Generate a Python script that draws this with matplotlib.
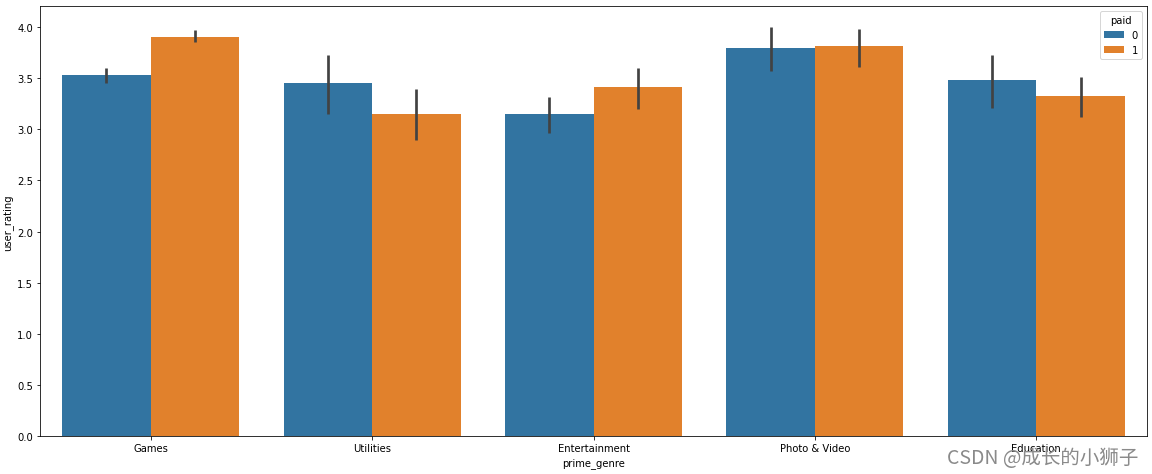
import matplotlib
matplotlib.use("Agg")
import matplotlib.pyplot as plt
import numpy as np

genres = ["Games", "Utilities", "Entertainment", "Photo & Video", "Education"]
hue_levels = ["0", "1"]
rating_paid0 = [3.53, 3.45, 3.15, 3.79, 3.48]
rating_paid1 = [3.90, 3.15, 3.41, 3.81, 3.32]
ci_low_paid0 = [3.45, 3.15, 2.96, 3.57, 3.21]
ci_high_paid0 = [3.60, 3.72, 3.31, 4.00, 3.72]
ci_low_paid1 = [3.85, 2.89, 3.20, 3.61, 3.12]
ci_high_paid1 = [3.97, 3.39, 3.60, 3.98, 3.51]

colors = ["#3274a1", "#e1812c"]
err_color = "#424242"

fig = plt.figure(figsize=(16, 6.597), dpi=72)
ax = fig.add_axes([0.0347, 0.079, 0.961, 0.906])

x = np.arange(len(genres))
w = 0.4
series = [(rating_paid0, ci_low_paid0, ci_high_paid0), (rating_paid1, ci_low_paid1, ci_high_paid1)]
for i, (vals, lo, hi) in enumerate(series):
    vals = np.array(vals); lo = np.array(lo); hi = np.array(hi)
    pos = x - 0.2 + i * w
    ax.bar(pos, vals, width=w, color=colors[i], label=hue_levels[i], edgecolor="none")
    ax.vlines(pos, lo, hi, color=err_color, lw=2.7, zorder=3)

ax.set_xlim(-0.5, 4.5)
ax.set_ylim(0, 4.2)
ax.set_xticks(x)
ax.set_xticklabels(genres)
ax.set_yticks(np.arange(0, 4.01, 0.5))
ax.set_xlabel("prime_genre", fontsize=10)
ax.set_ylabel("user_rating", fontsize=10)
ax.tick_params(labelsize=10)
leg = ax.legend(title="paid", loc="upper right", fontsize=10, title_fontsize=10)

fig.text(0.988, 0.012, "CSDN @成长的小狮子", ha="right", va="bottom", fontsize=19.5,
         color="#8a8a8a", family=["Noto Sans CJK SC", "DejaVu Sans"])

fig.savefig("out.png", dpi=72)
